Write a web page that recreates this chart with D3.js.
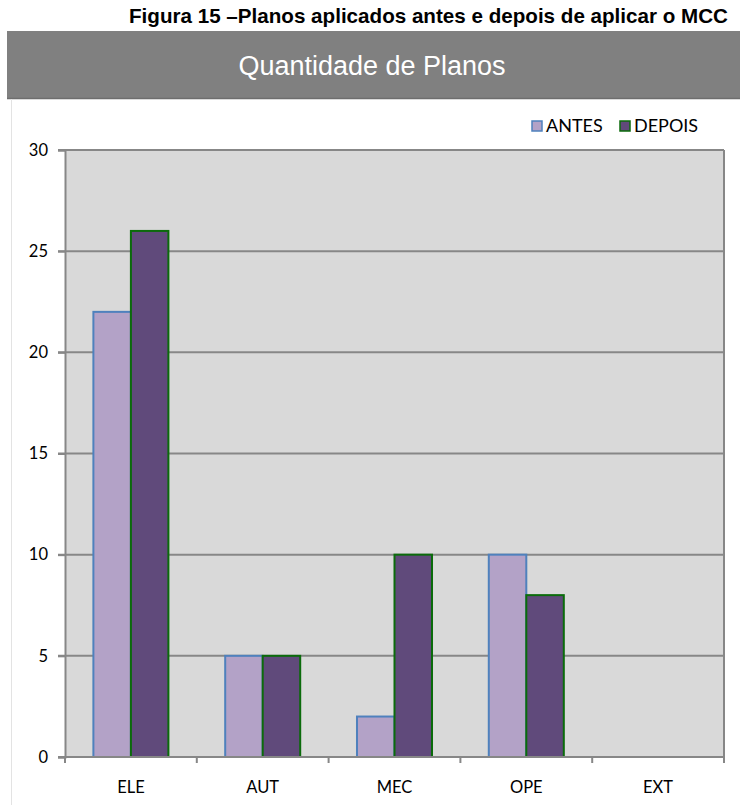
<!DOCTYPE html>
<html><head><meta charset="utf-8">
<script src="https://cdn.jsdelivr.net/npm/d3@7"></script>
<style>html,body{margin:0;padding:0;background:#fff}</style>
</head><body>
<svg id="c" width="740" height="805"></svg>
<script>
const categories = ["ELE","AUT","MEC","OPE","EXT"];
const seriesNames = ["ANTES","DEPOIS"];
const antes = [22,5,2,10,0];
const depois = [26,5,10,8,0];
const yTicks = [0,5,10,15,20,25,30];

const svg = d3.select("#c");
const W = 740;
// figure title
svg.append("text").attr("x",129).attr("y",23)
  .attr("font-family","Liberation Sans, Arial, sans-serif").attr("font-weight","bold")
  .attr("font-size",20.5).attr("fill","#000")
  .attr("textLength",599).attr("lengthAdjust","spacingAndGlyphs")
  .text("Figura 15 –Planos aplicados antes e depois de aplicar o MCC");
// header band
svg.append("rect").attr("x",7).attr("y",31).attr("width",W-7).attr("height",68).attr("fill","#808080");
svg.append("line").attr("x1",7).attr("x2",W).attr("y1",98.5).attr("y2",98.5).attr("stroke","#6e6e6e").attr("stroke-width",1.5);
svg.append("text").attr("x",372).attr("y",75).attr("text-anchor","middle")
  .attr("font-family","Liberation Sans, Arial, sans-serif").attr("font-size",27).attr("fill","#fff")
  .text("Quantidade de Planos");
// left thin border
svg.append("line").attr("x1",11.5).attr("x2",11.5).attr("y1",99).attr("y2",805).attr("stroke","#e3e3e3").attr("stroke-width",1);

const m = {left:65, right:724, top:150, bottom:757};
const x = d3.scaleBand().domain(categories).range([m.left,m.right]).paddingInner(0).paddingOuter(0);
const xs = d3.scaleBand().domain(seriesNames).range([0,x.bandwidth()]).paddingInner(0).paddingOuter(0.757);
const y = d3.scaleLinear().domain([0,30]).range([m.bottom,m.top]);

svg.append("rect").attr("x",m.left).attr("y",m.top).attr("width",m.right-m.left).attr("height",m.bottom-m.top).attr("fill","#d9d9d9");
// gridlines
svg.append("g").selectAll("line").data(yTicks.filter(d=>d>0)).join("line")
  .attr("x1",m.left-7).attr("x2",m.right).attr("y1",d=>y(d)).attr("y2",d=>y(d))
  .attr("stroke","#878787").attr("stroke-width",2);
// right border
svg.append("line").attr("x1",m.right).attr("x2",m.right).attr("y1",m.top).attr("y2",m.bottom+6).attr("stroke","#878787").attr("stroke-width",2);

const fills = {ANTES:"#b3a2c7", DEPOIS:"#604a7b"};
const strokes = {ANTES:"#4f81bd", DEPOIS:"#0b6b0b"};
const data = [];
categories.forEach((c,i)=>{ data.push({c,s:"ANTES",v:antes[i]}); data.push({c,s:"DEPOIS",v:depois[i]}); });
svg.append("g").selectAll("rect").data(data.filter(d=>d.v>0)).join("rect")
  .attr("x",d=>x(d.c)+xs(d.s)).attr("width",xs.bandwidth())
  .attr("y",d=>y(d.v)).attr("height",d=>y(0)-y(d.v))
  .attr("fill",d=>fills[d.s]).attr("stroke",d=>strokes[d.s]).attr("stroke-width",2);

// axes
const yAxis = d3.axisLeft(y).tickValues(yTicks).tickSize(7).tickPadding(10);
const gy = svg.append("g").attr("transform",`translate(${m.left},0)`).call(yAxis);
gy.select(".domain").attr("stroke","#878787").attr("stroke-width",2);
gy.selectAll(".tick line").attr("stroke","#878787").attr("stroke-width",2);
gy.selectAll(".tick text").attr("font-family","Lato, Carlito, Calibri, sans-serif").attr("font-size",16.5).attr("fill","#000");

svg.append("line").attr("x1",m.left-7).attr("x2",m.right).attr("y1",m.bottom).attr("y2",m.bottom).attr("stroke","#878787").attr("stroke-width",2);
const bounds = categories.map(c=>x(c)).concat([m.right]);
svg.append("g").selectAll("line").data(bounds).join("line")
  .attr("x1",d=>d).attr("x2",d=>d).attr("y1",m.bottom).attr("y2",m.bottom+6)
  .attr("stroke","#878787").attr("stroke-width",2);
svg.append("g").selectAll("text").data(categories).join("text")
  .attr("x",d=>x(d)+x.bandwidth()/2).attr("y",793).attr("text-anchor","middle")
  .attr("font-family","Lato, Carlito, Calibri, sans-serif").attr("font-size",16.5).attr("fill","#000")
  .text(d=>d);

// legend
const lg = svg.append("g");
const legX = [532, 620];
seriesNames.forEach((s,i)=>{
  lg.append("rect").attr("x",legX[i]).attr("y",121).attr("width",10).attr("height",10)
    .attr("fill",fills[s]).attr("stroke",strokes[s]).attr("stroke-width",1.5);
  lg.append("text").attr("x",legX[i]+14).attr("y",132)
    .attr("font-family","Lato, Carlito, Calibri, sans-serif").attr("font-size",18).attr("fill","#000").text(s);
});
</script>
</body></html>
